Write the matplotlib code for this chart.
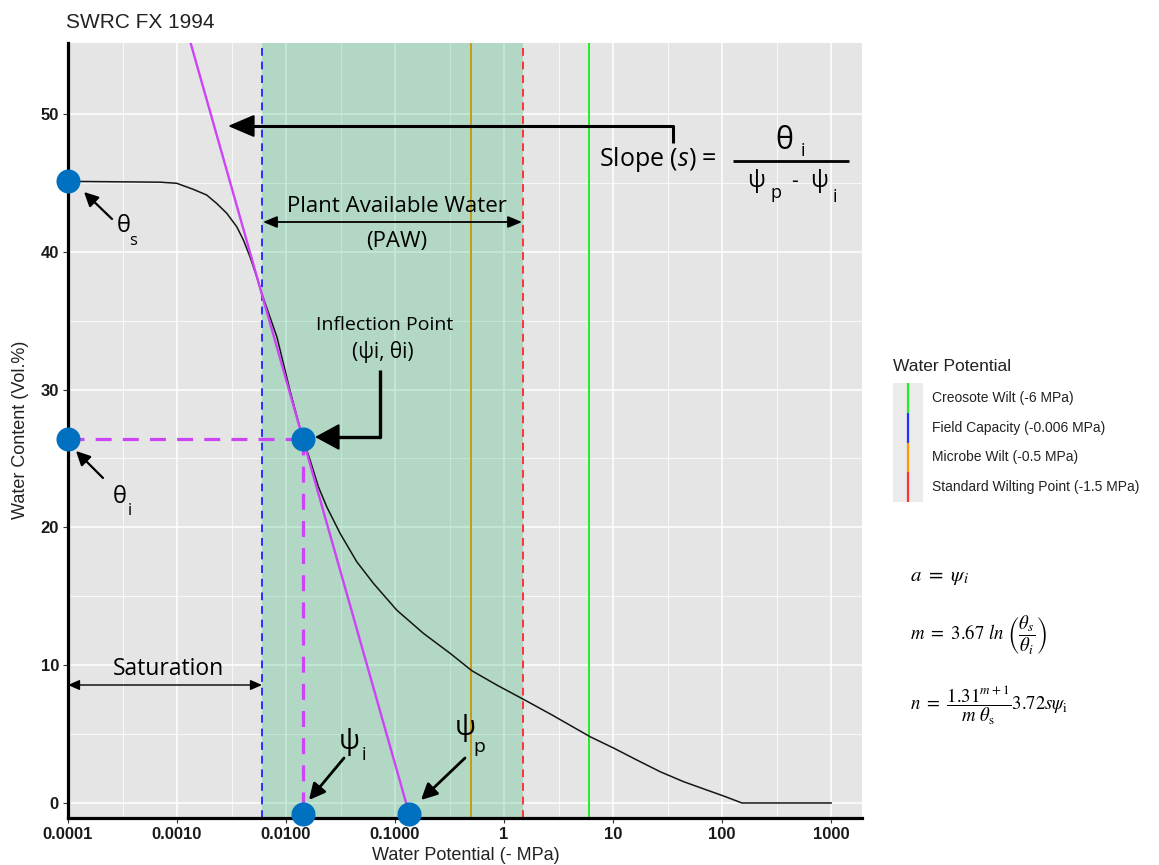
import numpy as np
import matplotlib
matplotlib.use('Agg')
import matplotlib.pyplot as plt
from matplotlib.patches import FancyArrowPatch, Rectangle
from matplotlib.lines import Line2D
from matplotlib.ticker import FixedLocator, NullFormatter

plt.rcParams['mathtext.fontset'] = 'custom'
plt.rcParams['mathtext.rm'] = 'Open Sans'
plt.rcParams['mathtext.it'] = 'Open Sans:italic'

# ---------------- data ----------------
psi_curve = [1e-4, 1.37e-4, 7.0e-4, 9.93e-4, 1.41e-3, 1.87e-3, 2.31e-3, 2.86e-3,
             3.53e-3, 4.06e-3, 4.67e-3, 5.38e-3, 5.98e-3, 8.26e-3, 0.0109, 0.0143,
             0.0166, 0.0198, 0.0236, 0.0313, 0.0445, 0.0633, 0.1035, 0.182,
             0.320, 0.506, 0.857, 1.50, 2.75, 6.15, 10.2, 16.5, 27.0, 44.2,
             72.4, 103, 152, 1000]
theta_curve = [45.1, 45.1, 45.05, 44.97, 44.53, 44.12, 43.51, 42.79,
               41.82, 40.86, 39.64, 38.19, 36.99, 33.8, 29.9, 26.4,
               24.9, 22.95, 21.5, 19.57, 17.51, 15.94, 14.0, 12.31,
               10.86, 9.60, 8.56, 7.53, 6.39, 4.81, 3.97, 3.12, 2.27, 1.55,
               0.94, 0.51, 0.0, 0.0]

threshold_names = ["Creosote Wilt (-6 MPa)", "Field Capacity (-0.006 MPa)",
                   "Microbe Wilt (-0.5 MPa)", "Standard Wilting Point (-1.5 MPa)"]
threshold_psi = [6, 0.006, 0.5, 1.5]
threshold_colors = ['#22EE22', '#2233FF', '#FF9900', '#FF3333']
threshold_dashed = [False, True, False, True]

paw_range = [0.006, 1.5]

theta_s = 45.1
theta_i = 26.4
psi_i = 0.0143
psi_p = 0.135
marker_floor = -0.8

key_x = [1e-4, 1e-4, psi_i, psi_i, psi_p]
key_y = [theta_s, theta_i, theta_i, marker_floor, marker_floor]

x_ticks = [1e-4, 1e-3, 1e-2, 1e-1, 1, 10, 100, 1000]
x_ticklabels = ["0.0001", "0.0010", "0.0100", "0.1000", "1", "10", "100", "1000"]
y_ticks = [0, 10, 20, 30, 40, 50]
y_ticklabels = ["0", "10", "20", "30", "40", "50"]

# ---------------- figure ----------------
W, H = 1159, 865
fig = plt.figure(figsize=(W / 100, H / 100), dpi=100)


def P(x, y):
    return (x / W, 1 - y / H)


L, R, T, B = 68, 862, 43, 818
ax = fig.add_axes([L / W, 1 - B / H, (R - L) / W, (B - T) / H])
ax.set_facecolor('#E5E5E5')
ax.set_xscale('log')
ax.set_xlim(1e-4, 1.92e3)
ax.set_ylim(-1.09, 55.15)

ax.set_xticks(x_ticks)
ax.set_xticklabels(x_ticklabels)
ax.xaxis.set_minor_locator(FixedLocator([10 ** (k + 0.5) for k in range(-4, 4)]))
ax.xaxis.set_minor_formatter(NullFormatter())
ax.set_yticks(y_ticks)
ax.set_yticklabels(y_ticklabels)
ax.yaxis.set_minor_locator(FixedLocator([5, 15, 25, 35, 45]))
ax.grid(which='major', color='white', lw=1.1)
ax.grid(which='minor', color='white', lw=0.55)
ax.set_axisbelow(True)
ax.tick_params(which='minor', length=0)
ax.tick_params(which='major', length=3.5, width=0.8, color='#333333', pad=3)
for lab in ax.get_xticklabels() + ax.get_yticklabels():
    lab.set_fontfamily('Liberation Sans')
    lab.set_fontweight('bold')
    lab.set_fontsize(12)
    lab.set_color('#1a1a1a')
for sp in ['top', 'right']:
    ax.spines[sp].set_visible(False)
for sp in ['left', 'bottom']:
    ax.spines[sp].set_linewidth(2.3)
    ax.spines[sp].set_color('black')

# shaded PAW region and threshold lines
ax.axvspan(paw_range[0], paw_range[1], color='#00A651', alpha=0.22, lw=0, zorder=1.6)
for xv, c, d in zip(threshold_psi, threshold_colors, threshold_dashed):
    if d:
        ax.axvline(xv, color=c, lw=1.4, dashes=(4, 3), zorder=2.5)
    else:
        ax.axvline(xv, color=c, lw=1.4, zorder=1.5 if c == '#FF9900' else 2.5)

# retention curve
ax.plot(psi_curve, theta_curve, color='#151515', lw=1.1, zorder=3)

# tangent at the inflection point
slope = (theta_i - marker_floor) / (np.log10(psi_p) - np.log10(psi_i))
x_top = 10 ** (np.log10(psi_i) - (60 - theta_i) / slope)
purple = '#CC44F5'
ax.plot([x_top, psi_p], [60, marker_floor], color=purple, lw=1.7, zorder=3.5)
ax.plot([1e-4, psi_i], [theta_i, theta_i], color=purple, lw=2.3, dashes=(5, 3.5), zorder=3.4)
ax.plot([psi_i, psi_i], [theta_i, marker_floor], color=purple, lw=2.3, dashes=(5, 3.5), zorder=3.4)

ax.scatter(key_x, key_y, s=300, color='#0070C0', zorder=6, clip_on=False, linewidths=0)

# ---------------- annotations ----------------
af = 'Open Sans'


def arrow(p0, p1, style, ms, lw):
    fig.add_artist(FancyArrowPatch(P(*p0), P(*p1), transform=fig.transFigure,
                                   arrowstyle=style, mutation_scale=ms, lw=lw,
                                   color='black', shrinkA=0, shrinkB=0))


def seg(xs, ys, lw):
    fig.add_artist(Line2D([x / W for x in xs], [1 - y / H for y in ys],
                          transform=fig.transFigure, color='black', lw=lw,
                          solid_capstyle='butt'))


fig.text(*P(66, 22), "SWRC FX 1994", fontsize=15, family='Liberation Sans',
         ha='left', va='center', color='#222222')

# theta_s / theta_i
arrow((112, 219), (84, 192), '-|>,head_length=0.6,head_width=0.3', 14, 1.6)
fig.text(*P(124, 226), "θ", fontsize=17, family=af, ha='center', va='center')
fig.text(*P(133, 241), "s", fontsize=12, family=af, ha='center', va='center')
arrow((103, 478), (76, 451), '-|>,head_length=0.6,head_width=0.3', 14, 1.6)
fig.text(*P(120, 497), "θ", fontsize=17, family=af, ha='center', va='center')
fig.text(*P(130, 511), "i", fontsize=12, family=af, ha='center', va='center')

# slope formula
seg([673, 673, 240], [143, 126, 126], 2.2)
arrow((245, 126), (228, 126), '-|>,head_length=0.75,head_width=0.32', 22, 1.5)
fig.text(*P(599, 160), r'Slope ($s$) =', fontsize=18, family=af, ha='left', va='center')
fig.text(*P(784, 141), "θ", fontsize=22, family=af, ha='center', va='center')
fig.text(*P(803, 151), "i", fontsize=13, family=af, ha='center', va='center')
seg([733, 849], [161, 161], 2.0)
fig.text(*P(756, 181), "ψ", fontsize=17, family=af, ha='center', va='center')
fig.text(*P(776, 193), "p", fontsize=13, family=af, ha='center', va='center')
fig.text(*P(794, 181), "-", fontsize=15, family=af, ha='center', va='center')
fig.text(*P(819, 181), "ψ", fontsize=17, family=af, ha='center', va='center')
fig.text(*P(835, 197), "i", fontsize=13, family=af, ha='center', va='center')

# plant available water
fig.text(*P(397, 207), "Plant Available Water", fontsize=16, family=af,
         ha='center', va='center')
arrow((263, 222), (522, 222), '<|-|>,head_length=0.6,head_width=0.25', 14, 1.3)
fig.text(*P(397, 241), "(PAW)", fontsize=16, family=af, ha='center', va='center')

# inflection point
fig.text(*P(385, 325), "Inflection Point", fontsize=14, family=af, ha='center', va='center')
fig.text(*P(383, 352), "(ψi, θi)", fontsize=15, family=af, ha='center', va='center')
seg([380, 380, 330], [370, 437, 437], 2.4)
arrow((332, 437), (315, 437), '-|>,head_length=0.7,head_width=0.38', 22, 1.5)

# saturation
fig.text(*P(168, 669), "Saturation", fontsize=16.5, family=af, ha='center', va='center')
arrow((68, 685), (262, 685), '<|-|>,head_length=0.5,head_width=0.22', 14, 1.0)

# psi_i / psi_p
arrow((344, 758), (309, 800), '-|>,head_length=0.6,head_width=0.3', 16, 2.0)
fig.text(*P(349, 742), "ψ", fontsize=20, family=af, ha='center', va='center')
fig.text(*P(364, 755), "i", fontsize=13, family=af, ha='center', va='center')
arrow((465, 758), (421, 800), '-|>,head_length=0.6,head_width=0.3', 16, 2.0)
fig.text(*P(465, 728), "ψ", fontsize=20, family=af, ha='center', va='center')
fig.text(*P(479, 747), "p", fontsize=14, family=af, ha='center', va='center')

# axis labels
fig.text(*P(466, 855), "Water Potential (- MPa)", fontsize=13, family='Liberation Sans',
         ha='center', va='center', color='#222222')
fig.text(*P(21, 430), "Water Content (Vol.%)", fontsize=13, family='Liberation Sans',
         ha='center', va='center', rotation=90, color='#222222')

# legend
fig.text(*P(893, 367), "Water Potential", fontsize=12.5, family='Liberation Sans',
         ha='left', va='center', color='#222222')
fig.add_artist(Rectangle(P(893, 502), 30 / W, (502 - 383) / H,
                         transform=fig.transFigure, color='#EBEBEB', lw=0))
key_h = (502 - 383) / len(threshold_names)
for k, (name, c) in enumerate(zip(threshold_names, threshold_colors)):
    y0 = 383 + k * key_h
    seg_line = Line2D([908 / W, 908 / W], [1 - y0 / H, 1 - (y0 + key_h) / H],
                      transform=fig.transFigure, color=c, lw=1.6, solid_capstyle='butt')
    fig.add_artist(seg_line)
    fig.text(*P(932, y0 + key_h / 2), name, fontsize=10, family='Liberation Sans',
             ha='left', va='center', color='#222222')

# equations
fig.text(*P(910, 577), r'$a\ =\ \psi_i$', fontsize=15, math_fontfamily='stix',
         ha='left', va='center')
fig.text(*P(910, 635), r'$m\ =\ 3.67\ ln\ \left(\dfrac{\theta_s}{\theta_i}\right)$',
         fontsize=13.5, math_fontfamily='stix', ha='left', va='center')
fig.text(*P(910, 705), r'$n\ =\ \dfrac{1.31^{m+1}}{m\ \theta_\mathrm{s}}3.72s\psi_\mathrm{i}$',
         fontsize=13.5, math_fontfamily='stix', ha='left', va='center')

fig.savefig('out.png', dpi=100, facecolor='white')
